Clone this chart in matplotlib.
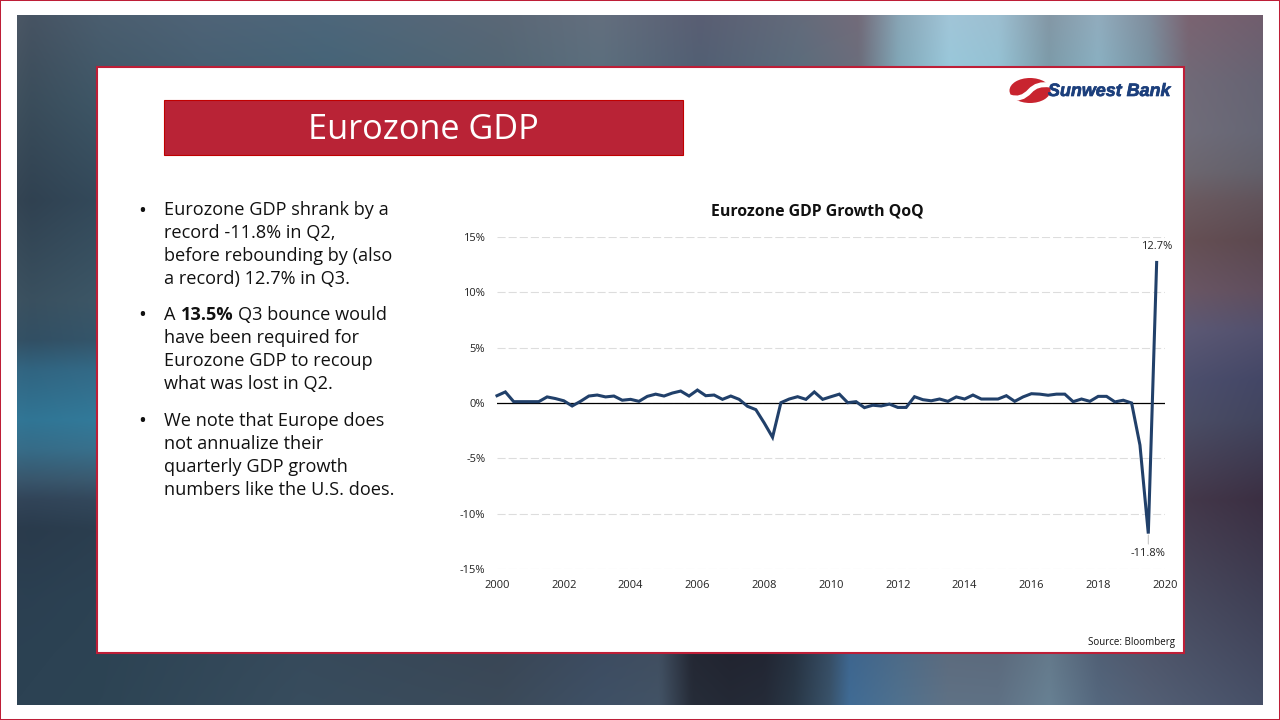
import numpy as np
import matplotlib
matplotlib.use("Agg")
import matplotlib.pyplot as plt
import matplotlib.patheffects as pe
from matplotlib.patches import Rectangle, Ellipse, PathPatch
from matplotlib.path import Path
from matplotlib.colors import to_rgb

plt.rcParams['font.family'] = ['Open Sans', 'DejaVu Sans']

# ---- data -------------------------------------------------------
start_year = 2000
gdp_growth = [
    0.66, 1.00, 0.12, 0.12, 0.12, 0.12, 0.55, 0.40, 0.20, -0.27,
    0.15, 0.63, 0.72, 0.55, 0.63, 0.25, 0.33, 0.15, 0.60, 0.80,
    0.63, 0.90, 1.08, 0.63, 1.17, 0.66, 0.72, 0.33, 0.63, 0.33,
    -0.30, -0.60, -1.80, -3.10, 0.03, 0.36, 0.57, 0.33, 1.00, 0.33,
    0.57, 0.80, 0.03, 0.12, -0.42, -0.20, -0.27, -0.10, -0.40, -0.40,
    0.57, 0.30, 0.20, 0.36, 0.15, 0.55, 0.36, 0.72, 0.36, 0.36,
    0.36, 0.66, 0.15, 0.55, 0.84, 0.80, 0.70, 0.80, 0.80, 0.12,
    0.36, 0.15, 0.60, 0.60, 0.10, 0.25, 0.00, -3.80, -11.80, 12.70,
]
year_ticks = list(range(2000, 2021, 2))
pct_ticks = [-15, -10, -5, 0, 5, 10, 15]
chart_title = "Eurozone GDP Growth QoQ"
slide_title = "Eurozone GDP"
source_note = "Source: Bloomberg"
bullet_one = ["Eurozone GDP shrank by a", "record -11.8% in Q2,",
              "before rebounding by (also", "a record) 12.7% in Q3."]
bullet_two_first = ["A ", "13.5%", " Q3 bounce would"]
bullet_two_rest = ["have been required for", "Eurozone GDP to recoup",
                   "what was lost in Q2."]
bullet_three = ["We note that Europe does", "not annualize their",
                "quarterly GDP growth", "numbers like the U.S. does."]

# ---- background colours sampled along the visible picture frame ---
top_x = [17, 30, 100, 200, 326, 500, 600, 700, 800, 860, 900, 950, 1000, 1050, 1100, 1150, 1190, 1263]
top_c = ["#4a5d6e", "#465a6c", "#4a6478", "#4f6a80", "#4f6e84", "#5e7080", "#687888", "#5f687d", "#6a7585",
         "#7a7684", "#90b0c0", "#a9d0e2", "#a5cadb", "#8da3b0", "#9bb8c8", "#8a9aa8", "#85707c", "#7b6a78"]
bot_x = [17, 100, 300, 500, 600, 660, 692, 730, 765, 795, 830, 850, 900, 950, 1000, 1050, 1100, 1150, 1263]
bot_c = ["#2d4454", "#2e4655", "#3a5060", "#3f4f5d", "#43566a", "#47596a", "#2b333e", "#29303b", "#2a323e",
         "#2f3f4d", "#3f5a70", "#46739b", "#567995", "#667a8c", "#667a8c", "#6f8a9b", "#5c7186", "#5b697d", "#4f5a70"]
left_y = [15, 100, 200, 300, 340, 370, 420, 450, 480, 500, 530, 600, 705]
left_c = ["#4a5d6e", "#3e5666", "#33495a", "#3c5666", "#34556a", "#336a87", "#327a9a", "#38708c",
          "#3a5a70", "#33485c", "#2b3e4f", "#2c4253", "#2d4454"]
right_y = [15, 80, 130, 170, 200, 240, 290, 330, 380, 420, 500, 600, 705]
right_c = ["#7b6a78", "#71707e", "#70727f", "#6d6c75", "#6b5f65", "#665459", "#6a5a68", "#5c5c78",
           "#4d5270", "#4b5068", "#443a4c", "#484a5e", "#4f5a70"]

def edge(pos, cols, q):
    rgb = np.array([to_rgb(c) for c in cols])
    return np.stack([np.interp(q, pos, rgb[:, k]) for k in range(3)], axis=-1)

gx = np.linspace(17, 1263, 312)
gy = np.linspace(15, 705, 173)
T, B = edge(top_x, top_c, gx), edge(bot_x, bot_c, gx)
L, R = edge(left_y, left_c, gy), edge(right_y, right_c, gy)
u = np.clip((gx - 96) / 1088, 0, 1)[None, :, None]
v = np.clip((gy - 67) / 586, 0, 1)[:, None, None]
TL, TR = edge(top_x, top_c, 96.0), edge(top_x, top_c, 1184.0)
BL, BR = edge(bot_x, bot_c, 96.0), edge(bot_x, bot_c, 1184.0)
bg_img = ((1 - v) * T[None, :, :] + v * B[None, :, :]
          + (1 - u) * L[:, None, :] + u * R[:, None, :]
          - ((1 - u) * (1 - v) * TL + u * (1 - v) * TR + (1 - u) * v * BL + u * v * BR))
bg_img = np.clip(bg_img, 0, 1)

fig = plt.figure(figsize=(12.8, 7.2), dpi=100, facecolor="white")

slide = fig.add_axes([0, 0, 1, 1])
slide.axis("off")

RED = "#BE1E37"
slide.imshow(bg_img, extent=(17, 1263, 705, 15), interpolation="bilinear", aspect="auto", zorder=1)
slide.set_xlim(0, 1280)
slide.set_ylim(720, 0)
slide.add_patch(Rectangle((0, 0), 1280, 720, fill=False, ec=RED, lw=1.45, zorder=2, clip_on=True))
slide.add_patch(Rectangle((97, 67), 1087, 585.5, fc="white", ec=RED, lw=1.5, zorder=2))
slide.add_patch(Rectangle((164, 100), 518.5, 55, fc="#B92336", ec="#C00000", lw=0.8, zorder=3))
slide.text(423, 130, slide_title, color="white", fontsize=24.7, ha="center", va="center", zorder=4)

# bullets
BODY = 13.1
LH = 23.1
ink = "#111111"
def lines(block, y0, x=164):
    for i, s in enumerate(block):
        slide.text(x, y0 + i * LH, s, fontsize=BODY, color=ink, va="center", ha="left", zorder=4)

def bullet(y):
    slide.text(142, y, "\u2022", fontsize=15, color=ink, va="center", ha="center", zorder=4)

bullet(211); lines(bullet_one, 210)
bullet(316)
rend = fig.canvas.get_renderer()
xpos = 164
for seg, wt in zip(bullet_two_first, ["normal", "bold", "normal"]):
    t = slide.text(xpos, 315, seg.strip(), fontsize=BODY, color=ink, va="center", ha="left",
                   fontweight=wt, zorder=4)
    width = t.get_window_extent(rend).width
    xpos += width + (5 if seg.endswith(" ") or wt == "bold" else 4)
lines(bullet_two_rest, 315 + LH)
bullet(422); lines(bullet_three, 421)

# source
slide.text(1175, 642, source_note, fontsize=7, color=ink, ha="right", va="center", zorder=4)

# logo
slide.add_patch(Ellipse((1030, 90.5), 41, 25, fc="#C8242F", ec="none", zorder=4))
sw = Path([(1010, 97), (1021, 101), (1030, 91), (1037, 83), (1050, 85)],
          [Path.MOVETO, Path.CURVE3, Path.CURVE3, Path.CURVE3, Path.CURVE3])
slide.add_patch(PathPatch(sw, fc="none", ec="white", lw=3.6, zorder=5))
slide.text(1048, 91.5, "Sunwest Bank", family="Liberation Sans", style="italic", fontweight="bold",
           fontsize=12.9, color="#1C3F7C", va="center", ha="left", zorder=5,
           path_effects=[pe.withStroke(linewidth=0.5, foreground="#1C3F7C")])

# chart
x0, x1, ytop, ybot = 497, 1165, 237, 569
ax = fig.add_axes([x0 / 1280, 1 - ybot / 720, (x1 - x0) / 1280, (ybot - ytop) / 720], zorder=5)
ax.patch.set_alpha(0)
quarters = start_year + np.arange(len(gdp_growth)) / 4
ax.set_xlim(year_ticks[0], year_ticks[-1])
ax.set_ylim(pct_ticks[0], pct_ticks[-1])
ax.set_xticks(year_ticks)
ax.set_yticks(pct_ticks)
ax.set_yticklabels([f"{v_}%" for v_ in pct_ticks])
ax.tick_params(length=0, labelsize=8, colors="#222222")
ax.tick_params(axis="y", pad=8.5)
ax.tick_params(axis="x", pad=8)
for s in ax.spines.values():
    s.set_visible(False)
ax.grid(axis="y", color="#DDDDDD", lw=0.8, ls=(0, (7.3, 2.7)), zorder=1)
ax.axhline(0, color="black", lw=0.9, zorder=2)
ax.plot(quarters, gdp_growth, color="#21406A", lw=2.2, solid_joinstyle="miter", zorder=3, clip_on=False)
ax.annotate(f"{gdp_growth[-1]}%", (quarters[-1], gdp_growth[-1]), xytext=(0, 11.5), textcoords="offset points",
            ha="center", va="center", fontsize=8, color="#222222")
ax.annotate(f"{gdp_growth[-2]}%", (quarters[-2], gdp_growth[-2]), xytext=(0, -14.5), textcoords="offset points",
            ha="center", va="center", fontsize=8, color="#222222",
            arrowprops=dict(arrowstyle="-", color="#BFBFBF", lw=0.7, shrinkA=1, shrinkB=1))
slide.text(817, 211.5, chart_title, fontsize=11.4, fontweight="bold", color="#111111", ha="center", va="center", zorder=6)

fig.savefig("out.png", dpi=100)
